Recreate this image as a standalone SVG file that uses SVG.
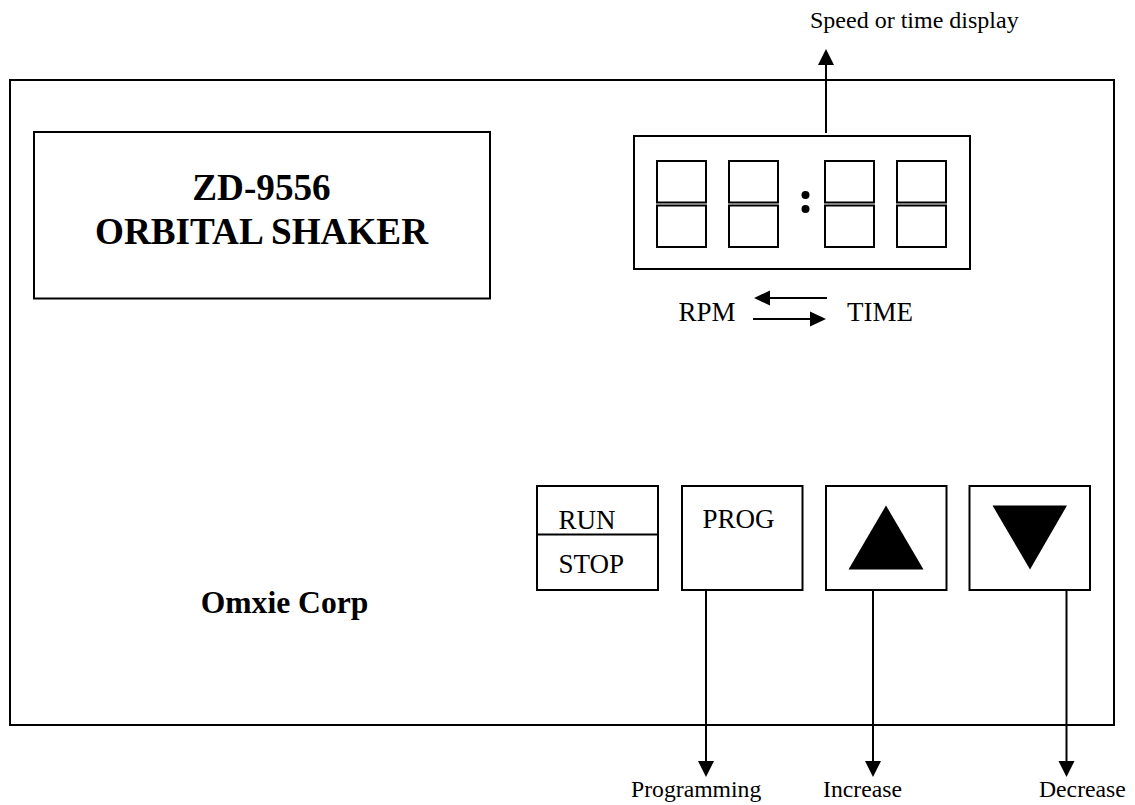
<svg xmlns="http://www.w3.org/2000/svg" width="1135" height="805" viewBox="0 0 1135 805">
<style>
.b{fill:none;stroke:#000;stroke-width:2}
.c{stroke:#000;stroke-width:2;fill:none}
.h{fill:#000}
text{font-family:"Liberation Serif","Times New Roman",serif;fill:#000}
.t{font-size:27px}
.s{font-size:23.7px}
.m{font-size:37.2px;font-weight:bold;text-anchor:middle}
.o{font-size:31.6px;font-weight:bold;text-anchor:middle}
</style>
<rect width="1135" height="805" fill="#fff"/>
<g id="panel"><rect class="b" x="10" y="80" width="1104" height="645"/></g>
<g id="title"><rect class="b" x="34" y="132" width="456" height="166.500"/>
<text class="m" x="261.500" y="200">ZD-9556</text><text class="m" x="261.500" y="244">ORBITAL SHAKER</text></g>
<g id="display"><rect class="b" x="634" y="136" width="336" height="133"/>
<rect class="b" x="657" y="161" width="49" height="41.500"/><rect class="b" x="657" y="205.500" width="49" height="41.500"/>
<rect class="b" x="729" y="161" width="49" height="41.500"/><rect class="b" x="729" y="205.500" width="49" height="41.500"/>
<rect class="b" x="825" y="161" width="49" height="41.500"/><rect class="b" x="825" y="205.500" width="49" height="41.500"/>
<rect class="b" x="897" y="161" width="49" height="41.500"/><rect class="b" x="897" y="205.500" width="49" height="41.500"/>
<circle class="h" cx="805.500" cy="195" r="4"/><circle class="h" cx="805.500" cy="209" r="4"/></g>
<g id="mode"><text class="t" x="678.500" y="321">RPM</text><text class="t" x="847" y="321">TIME</text></g>
<g id="speed-label"><text class="s" x="810" y="28" style="font-size:24px">Speed or time display</text></g>
<g id="run-stop"><rect class="b" x="537" y="486" width="121" height="104"/><line class="c" x1="537" y1="534.500" x2="658" y2="534.500"/>
<text class="t" x="558.500" y="529">RUN</text><text class="t" x="558.500" y="573">STOP</text></g>
<g id="prog"><rect class="b" x="682" y="486" width="120.500" height="104"/><text class="t" x="702.500" y="528">PROG</text></g>
<g id="increase"><rect class="b" x="826" y="486" width="120.500" height="104"/><polygon class="h" points="886,505.500 923.500,569.500 848.500,569.500"/></g>
<g id="decrease"><rect class="b" x="969.500" y="486" width="120.500" height="104"/><polygon class="h" points="992.500,505.500 1067,505.500 1030,569.500"/></g>
<g id="connectors">
<line class="c" x1="826" y1="133" x2="826" y2="62"/><polygon class="h" points="826,49 834,65 818,65"/>
<line class="c" x1="827" y1="298" x2="768" y2="298"/><polygon class="h" points="754,298 770,290.500 770,305.500"/>
<line class="c" x1="753" y1="319" x2="812" y2="319"/><polygon class="h" points="826,319 810,311.500 810,326.500"/>
<line class="c" x1="706" y1="590" x2="706" y2="763"/><polygon class="h" points="706,777 698,761 714,761"/>
<line class="c" x1="873" y1="590" x2="873" y2="763"/><polygon class="h" points="873,777 865,761 881,761"/>
<line class="c" x1="1066.500" y1="590" x2="1066.500" y2="763"/><polygon class="h" points="1066.500,777 1058.500,761 1074.500,761"/>
</g>
<g id="labels"><text class="s" x="631" y="797">Programming</text><text class="s" x="823" y="797">Increase</text><text class="s" x="1039" y="797">Decrease</text>
<text class="o" x="284.500" y="613">Omxie Corp</text></g>
</svg>
